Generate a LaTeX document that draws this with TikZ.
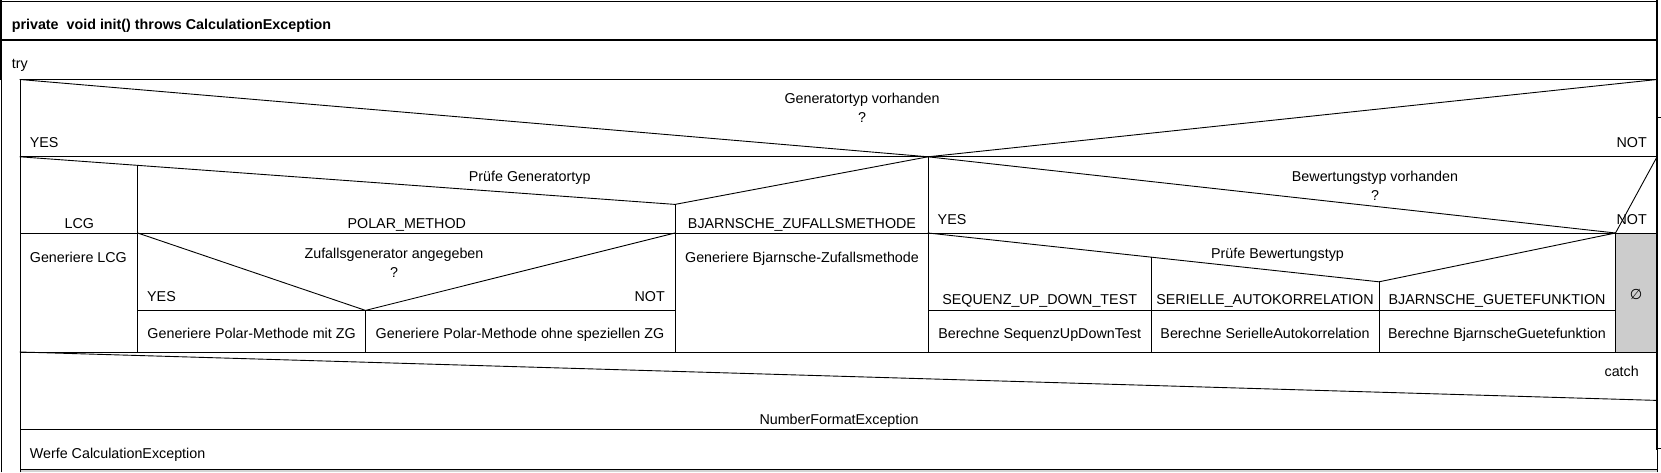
\documentclass[tikz,border=0pt]{standalone}
\usepackage{fontspec}
\setmainfont{Liberation Sans}
\definecolor{nsgray}{HTML}{CCCCCC}
\begin{document}
\begin{tikzpicture}[x=1pt,y=-1pt,
  t/.style={inner sep=0pt,anchor=base,font=\fontsize{14.3}{17}\selectfont},
  tl/.style={t,anchor=base west},
  tr/.style={t,anchor=base east},
  ln/.style={line width=0.9pt,line cap=rect},
  thk/.style={line width=2pt}]
\useasboundingbox (0,0) rectangle (1661,472);
% gray fills
\fill[nsgray] (1615.5,233) rectangle (1657,352);
\fill[nsgray!85!white] (20,469) rectangle (1657,472);
% outer frame
\draw[ln] (1,1) -- (1657,1);
\draw[thk] (1,0) -- (1,79.5);
\draw[ln] (1,79.5) -- (1,472);
\draw[thk] (0,39.5) -- (1657,39.5);
\draw[thk] (1657,0) -- (1657,450);
\draw[ln] (1657,450) -- (1657,472);
\draw[ln] (1657,117) -- (1661,117);
\draw[ln] (1657,448) -- (1661,448);
% inner box
\draw[ln] (20,79.5) -- (20,472);
\draw[ln] (20,79.5) -- (1657,79.5);
% if 1
\draw[ln] (20,79.5) -- (928,156.8) -- (1657,79.5);
\draw[ln] (20,156.8) -- (1657,156.8);
% switch generator
\draw[ln] (20,156.8) -- (675,204.4) -- (928,156.8);
\draw[ln] (137.7,165.4) -- (137.7,352);
\draw[ln] (675,204.4) -- (675,352);
\draw[ln] (20,233) -- (928,233);
\draw[ln] (928,156.8) -- (928,352);
% if zufallsgenerator
\draw[ln] (137.7,233) -- (365.5,310.4) -- (675,233);
\draw[ln] (137.7,310.4) -- (675,310.4);
\draw[ln] (365.5,310.4) -- (365.5,352);
% if bewertungstyp
\draw[ln] (928,156.8) -- (1615.5,233) -- (1657,156.8);
\draw[ln] (928,233) -- (1657,233);
\draw[ln] (1615.5,233) -- (1615.5,352);
% switch bewertung
\draw[ln] (928,233) -- (1379,281.8) -- (1615.5,233);
\draw[ln] (1151.5,257.3) -- (1151.5,352);
\draw[ln] (1379,281.8) -- (1379,352);
\draw[ln] (928,310.4) -- (1615.5,310.4);
% row bottom and catch
\draw[ln] (20,352) -- (1657,352);
\draw[ln] (20,352) -- (1657,400.4);
\draw[ln] (20,429) -- (1657,429);
\draw[ln] (20,469) -- (1657,469);
% texts
\node[tl,font=\fontsize{14.3}{17}\selectfont\bfseries] (head) at (11.6,29.5) {private\ \ void init() throws CalculationException};
\node[tl] (try) at (11.6,68.5) {try};
\node[t] (c1) at (862,103.5) {Generatortyp vorhanden};
\node[t] (c1q) at (862,122.6) {?};
\node[tl] (y1) at (29.7,147) {YES};
\node[tr] (n1) at (1647,147) {NOT};
\node[t] (sw1) at (529.7,181) {Prüfe Generatortyp};
\node[t] (lcg) at (79.4,228.5) {LCG};
\node[t] (polar) at (406.8,228.5) {POLAR\_METHOD};
\node[t] (bjz) at (802,228.5) {BJARNSCHE\_ZUFALLSMETHODE};
\node[tl] (glcg) at (29.7,262.4) {Generiere LCG};
\node[t] (c2) at (394,258) {Zufallsgenerator angegeben};
\node[t] (c2q) at (394,277) {?};
\node[tl] (y2) at (147,301.6) {YES};
\node[tr] (n2) at (665,301.6) {NOT};
\node[t] (gpm) at (251.6,338.7) {Generiere Polar-Methode mit ZG};
\node[t] (gpo) at (520,338.7) {Generiere Polar-Methode ohne speziellen ZG};
\node[t] (gbz) at (802,262) {Generiere Bjarnsche-Zufallsmethode};
\node[t] (c3) at (1375,181) {Bewertungstyp vorhanden};
\node[t] (c3q) at (1375,200) {?};
\node[tl] (y3) at (937.5,224.3) {YES};
\node[tr] (n3) at (1647,224.3) {NOT};
\node[t] (sw2) at (1277.5,258) {Prüfe Bewertungstyp};
\node[t] (seq) at (1039.7,304.8) {SEQUENZ\_UP\_DOWN\_TEST};
\node[t] (ser) at (1265,304.8) {SERIELLE\_AUTOKORRELATION};
\node[t] (bjg) at (1497,304.8) {BJARNSCHE\_GUETEFUNKTION};
\node[t] (bseq) at (1039.7,338.7) {Berechne SequenzUpDownTest};
\node[t] (bser) at (1265,338.7) {Berechne SerielleAutokorrelation};
\node[t] (bbjg) at (1497,338.7) {Berechne BjarnscheGuetefunktion};
\node[t,font=\fontsize{14.3}{17}\selectfont\fontspec{DejaVu Sans}] (empty) at (1636,299) {∅};
\node[tr] (catch) at (1639,376.8) {catch};
\node[t] (nfe) at (839,424.5) {NumberFormatException};
\node[tl] (werfe) at (29.7,458.4) {Werfe CalculationException};
\end{tikzpicture}
\end{document}
